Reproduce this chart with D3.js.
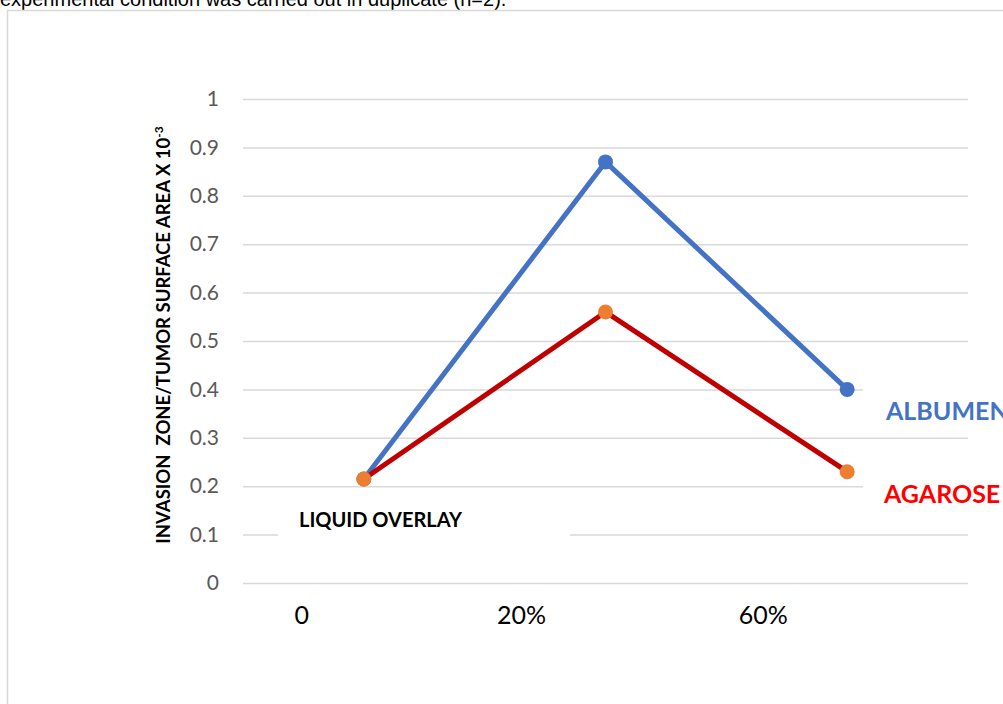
<!DOCTYPE html>
<html>
<head>
<meta charset="utf-8">
<script src="https://cdn.jsdelivr.net/npm/d3@7"></script>
<style>
  html, body { margin: 0; padding: 0; background: #fff; }
  svg { display: block; }
</style>
</head>
<body>
<svg id="chart" width="1003" height="704"></svg>
<script>
// Overlay concentration categories and measured invasion ratios
const categories = ["0", "20%", "60%"];
const albumen = [0.215, 0.87, 0.40];
const agarose = [0.215, 0.56, 0.23];
const yTicks = [0, 0.1, 0.2, 0.3, 0.4, 0.5, 0.6, 0.7, 0.8, 0.9, 1];

const svg = d3.select("#chart");
const font = "Lato, 'Open Sans', sans-serif";

// Caption line running off the top of the frame
svg.append("text")
  .attr("x", 0).attr("y", 6)
  .attr("font-family", "'Liberation Sans', Arial, sans-serif")
  .attr("font-size", 20).attr("fill", "#000")
  .text("experimental condition was carried out in duplicate (n=2).");

// Chart frame
svg.append("path")
  .attr("d", "M7.5,704 L7.5,10.5 L1003,10.5")
  .attr("fill", "none").attr("stroke", "#d9d9d9").attr("stroke-width", 1.5);

const plot = { left: 243, right: 968, top: 99, bottom: 583 };

const x = d3.scalePoint().domain(categories)
  .range([plot.left, plot.right]).padding(0.5);
const y = d3.scaleLinear().domain([0, 1]).range([plot.bottom, plot.top]);

// Horizontal gridlines via a left axis with full-width ticks
const grid = svg.append("g")
  .attr("transform", `translate(${plot.left},0)`)
  .call(d3.axisLeft(y).tickValues(yTicks).tickSize(-(plot.right - plot.left)).tickFormat(""));
grid.select(".domain").remove();
grid.selectAll(".tick line").attr("stroke", "#d9d9d9").attr("stroke-width", 1.5);

// Y tick labels
const yAxis = svg.append("g")
  .attr("transform", `translate(${plot.left - 24},0)`)
  .call(d3.axisLeft(y).tickValues(yTicks).tickSize(0).tickPadding(0).tickFormat(d3.format("")));
yAxis.select(".domain").remove();
yAxis.selectAll("text")
  .attr("font-family", font).attr("font-size", 21).attr("fill", "#595959");

// Y axis title
const yTitle = svg.append("text")
  .attr("transform", `translate(170,${y(0.5) - 6}) rotate(-90)`)
  .attr("text-anchor", "middle")
  .attr("font-family", font).attr("font-size", 18.5).attr("font-weight", "bold").attr("fill", "#000");
yTitle.append("tspan").text("INVASION\u00a0\u00a0ZONE/TUMOR SURFACE AREA X 10");
yTitle.append("tspan").attr("dy", -7).attr("font-size", 12).text("-3");

// Category labels below the plot
const labelShift = [-62, -84, -84];
svg.append("g").selectAll("text")
  .data(categories)
  .join("text")
  .attr("x", (d, i) => x(d) + labelShift[i])
  .attr("y", 624)
  .attr("text-anchor", "middle")
  .attr("font-family", font).attr("font-size", 25).attr("fill", "#000")
  .text(d => d);

// Series lines and markers
const line = d3.line().x((d, i) => x(categories[i])).y(d => y(d));

function drawSeries(values, lineColor, markerColor) {
  svg.append("path")
    .datum(values)
    .attr("d", line)
    .attr("fill", "none")
    .attr("stroke", lineColor)
    .attr("stroke-width", 5)
    .attr("stroke-linejoin", "round");
  svg.append("g").selectAll("circle")
    .data(values)
    .join("circle")
    .attr("cx", (d, i) => x(categories[i]))
    .attr("cy", d => y(d))
    .attr("r", 7.5)
    .attr("fill", markerColor);
}
drawSeries(albumen, "#4472c4", "#4472c4");
drawSeries(agarose, "#c00000", "#ed7d31");

// Annotation boxes (white fill hides the gridline beneath)
svg.append("rect").attr("x", 278).attr("y", 496).attr("width", 292).attr("height", 56).attr("fill", "#fff");
svg.append("text")
  .attr("x", 299).attr("y", 527)
  .attr("font-family", font).attr("font-size", 20).attr("font-weight", "bold").attr("fill", "#000")
  .text("LIQUID OVERLAY");

svg.append("rect").attr("x", 863).attr("y", 383).attr("width", 140).attr("height", 48).attr("fill", "#fff");
svg.append("text")
  .attr("x", 886).attr("y", 420)
  .attr("font-family", font).attr("font-size", 25).attr("font-weight", "bold").attr("fill", "#4472c4")
  .text("ALBUMEN");

svg.append("rect").attr("x", 863).attr("y", 480).attr("width", 140).attr("height", 45).attr("fill", "#fff");
svg.append("text")
  .attr("x", 884).attr("y", 503)
  .attr("font-family", font).attr("font-size", 25).attr("font-weight", "bold").attr("fill", "#ff0000")
  .text("AGAROSE");
</script>
</body>
</html>
